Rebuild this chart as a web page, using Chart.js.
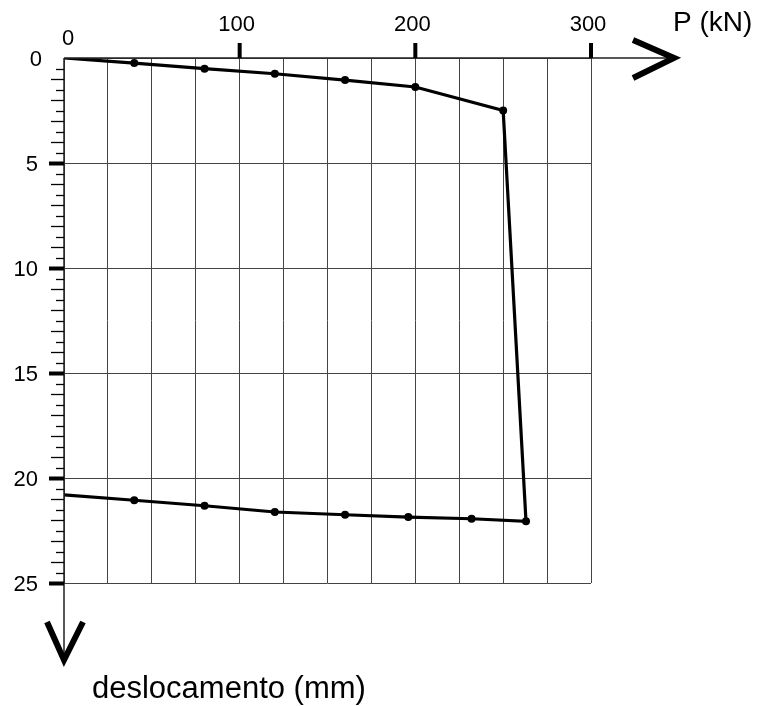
<!DOCTYPE html>
<html>
<head>
<meta charset="utf-8">
<script src="https://cdn.jsdelivr.net/npm/chart.js@4"></script>
<style>
  body { margin: 0; background: #fff; }
  #caixa { width: 769px; height: 706px; position: relative; }
</style>
</head>
<body>
<div id="caixa"><canvas id="grafico"></canvas></div>
<script>
// Dados (carga x deslocamento)
const cargaKN = [0, 40, 80, 120, 160, 200, 250, 263, 232, 196, 160, 120, 80, 40, 0];
const deslocamentoMm = [0, 0.24, 0.51, 0.75, 1.05, 1.38, 2.5, 22.06, 21.94, 21.86, 21.75, 21.62, 21.32, 21.06, 20.8];
const raioPonto = [0, 4, 4, 4, 4, 4, 4, 4, 4, 4, 4, 4, 4, 4, 0];

const ticksCarga = [0, 100, 200, 300];
const ticksDesloc = [0, 5, 10, 15, 20, 25];

const tituloX = "P (kN)";
const tituloY = "deslocamento (mm)";

const fonte = "'Liberation Sans', Arial, sans-serif";

const pontos = cargaKN.map((p, i) => ({ x: p, y: deslocamentoMm[i] }));

// eixos, setas, tracos e textos
const eixosPlugin = {
  id: 'eixos',
  afterDraw(chart) {
    const c = chart.ctx;
    const sx = chart.scales.x;
    const sy = chart.scales.y;
    const a = chart.chartArea;
    c.save();
    c.strokeStyle = '#222';
    c.fillStyle = '#000';

    // linhas dos eixos
    c.lineWidth = 1.5;
    c.beginPath();
    c.moveTo(a.left, a.top);
    c.lineTo(a.right + 84, a.top);
    c.moveTo(a.left, a.top);
    c.lineTo(a.left, a.bottom + 79);
    c.stroke();

    // setas
    c.strokeStyle = '#000';
    c.lineWidth = 6;
    c.lineJoin = 'miter';
    c.beginPath();
    c.moveTo(a.right + 42, a.top - 18);
    c.lineTo(a.right + 83, a.top);
    c.lineTo(a.right + 42, a.top + 20);
    c.stroke();
    c.beginPath();
    c.moveTo(a.left - 17, a.bottom + 39);
    c.lineTo(a.left, a.bottom + 77);
    c.lineTo(a.left + 19, a.bottom + 39);
    c.stroke();

    // tracos do eixo y (0,5 mm)
    for (let v = 0.5; v <= 25; v += 0.5) {
      const y = Math.round(sy.getPixelForValue(v)) + 0.5;
      const major = v % 5 === 0;
      const inteiro = v % 1 === 0;
      c.lineWidth = major ? 4 : 1.3;
      c.beginPath();
      c.moveTo(a.left - (major ? 15 : (inteiro ? 13 : 8)), y);
      c.lineTo(a.left, y);
      c.stroke();
    }
    // tracos do eixo x
    c.lineWidth = 4;
    ticksCarga.slice(1).forEach(v => {
      const x = sx.getPixelForValue(v);
      c.beginPath();
      c.moveTo(x, a.top - 15);
      c.lineTo(x, a.top);
      c.stroke();
    });

    // rotulos
    c.font = '22px ' + fonte;
    c.textBaseline = 'middle';
    c.textAlign = 'right';
    ticksDesloc.forEach(v => {
      const dx = v === 0 ? 22 : 26;
      c.fillText(String(v), a.left - dx, sy.getPixelForValue(v) + 2);
    });
    c.textAlign = 'center';
    ticksCarga.forEach(v => {
      if (v === 0) c.fillText('0', sx.getPixelForValue(v) + 4, a.top - 19);
      else c.fillText(String(v), sx.getPixelForValue(v) - 3, a.top - 33);
    });

    c.textAlign = 'left';
    c.textBaseline = 'alphabetic';
    c.font = '28px ' + fonte;
    c.fillText(tituloX, a.right + 82, a.top - 27);
    c.font = '31px ' + fonte;
    c.fillText(tituloY, a.left + 28, a.bottom + 115);
    c.restore();
  }
};

new Chart(document.getElementById('grafico').getContext('2d'), {
  type: 'scatter',
  data: {
    datasets: [{
      data: pontos,
      showLine: true,
      borderColor: '#000',
      borderWidth: 3.2,
      backgroundColor: '#000',
      pointRadius: raioPonto,
      pointBackgroundColor: '#000',
      pointBorderWidth: 0,
      tension: 0
    }]
  },
  options: {
    responsive: true,
    maintainAspectRatio: false,
    animation: false,
    layout: { padding: { left: 0, top: 0, right: 178, bottom: 123 } },
    plugins: { legend: { display: false }, tooltip: { enabled: false } },
    scales: {
      x: {
        type: 'linear',
        position: 'top',
        min: 0,
        max: 300,
        ticks: { stepSize: 25, display: false },
        grid: { color: '#444', lineWidth: 1, drawTicks: false },
        border: { display: false },
        afterFit(s) { s.height = 58; }
      },
      y: {
        type: 'linear',
        reverse: true,
        min: 0,
        max: 25,
        ticks: { stepSize: 5, display: false },
        grid: { color: '#444', lineWidth: 1, drawTicks: false },
        border: { display: false },
        afterFit(s) { s.width = 64; }
      }
    }
  },
  plugins: [eixosPlugin]
});
</script>
</body>
</html>
